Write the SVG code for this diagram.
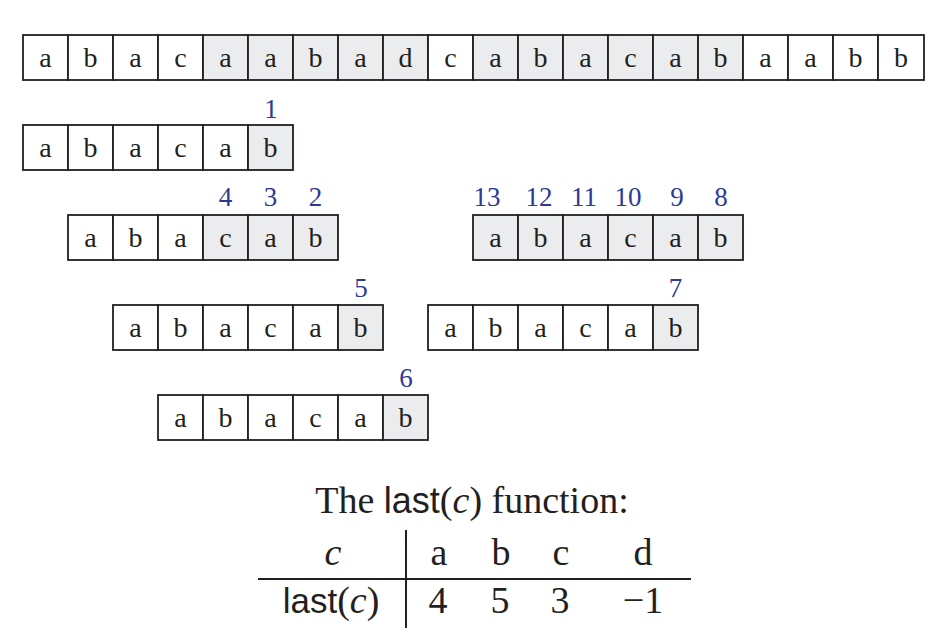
<svg xmlns="http://www.w3.org/2000/svg" width="940" height="641" viewBox="0 0 940 641">
<style>
.c{fill:#ffffff;stroke:#231f20;stroke-width:1.8}
.s{fill:#ebecee;stroke:#231f20;stroke-width:1.8}
.t{font-family:"Liberation Serif","Times New Roman",serif;font-size:28px;fill:#231f20;text-anchor:middle}
.n{font-family:"Liberation Serif","Times New Roman",serif;font-size:27px;fill:#2e3a92;text-anchor:middle}
.big{font-family:"Liberation Serif","Times New Roman",serif;font-size:38px;fill:#231f20}
.sans{font-family:"Liberation Sans",Arial,sans-serif}
.it{font-style:italic}
.ln{stroke:#231f20;stroke-width:2}
</style>
<rect width="940" height="641" fill="#ffffff"/>

<g id="text-row">
<rect class="c" x="23" y="35" width="45" height="45"/><rect class="c" x="68" y="35" width="45" height="45"/><rect class="c" x="113" y="35" width="45" height="45"/><rect class="c" x="158" y="35" width="45" height="45"/>
<rect class="s" x="203" y="35" width="45" height="45"/><rect class="s" x="248" y="35" width="45" height="45"/><rect class="s" x="293" y="35" width="45" height="45"/><rect class="s" x="338" y="35" width="45" height="45"/><rect class="s" x="383" y="35" width="45" height="45"/>
<rect class="c" x="428" y="35" width="45" height="45"/>
<rect class="s" x="473" y="35" width="45" height="45"/><rect class="s" x="518" y="35" width="45" height="45"/><rect class="s" x="563" y="35" width="45" height="45"/><rect class="s" x="608" y="35" width="45" height="45"/><rect class="s" x="653" y="35" width="45" height="45"/><rect class="s" x="698" y="35" width="45" height="45"/>
<rect class="c" x="743" y="35" width="45" height="45"/><rect class="c" x="788" y="35" width="45" height="45"/><rect class="c" x="833" y="35" width="45" height="45"/><rect class="c" x="878" y="35" width="46" height="45"/>
<text class="t" x="45.5" y="67">a</text><text class="t" x="90.5" y="67">b</text><text class="t" x="135.5" y="67">a</text><text class="t" x="180.5" y="67">c</text><text class="t" x="225.5" y="67">a</text><text class="t" x="270.5" y="67">a</text><text class="t" x="315.5" y="67">b</text><text class="t" x="360.5" y="67">a</text><text class="t" x="405.5" y="67">d</text><text class="t" x="450.5" y="67">c</text><text class="t" x="495.5" y="67">a</text><text class="t" x="540.5" y="67">b</text><text class="t" x="585.5" y="67">a</text><text class="t" x="630.5" y="67">c</text><text class="t" x="675.5" y="67">a</text><text class="t" x="720.5" y="67">b</text><text class="t" x="765.5" y="67">a</text><text class="t" x="810.5" y="67">a</text><text class="t" x="855.5" y="67">b</text><text class="t" x="901" y="67">b</text>
</g>

<g id="shift0">
<rect class="c" x="23" y="125" width="45" height="45"/><rect class="c" x="68" y="125" width="45" height="45"/><rect class="c" x="113" y="125" width="45" height="45"/><rect class="c" x="158" y="125" width="45" height="45"/><rect class="c" x="203" y="125" width="45" height="45"/><rect class="s" x="248" y="125" width="45" height="45"/>
<text class="t" x="45.5" y="157">a</text><text class="t" x="90.5" y="157">b</text><text class="t" x="135.5" y="157">a</text><text class="t" x="180.5" y="157">c</text><text class="t" x="225.5" y="157">a</text><text class="t" x="270.5" y="157">b</text>
<text class="n" x="271" y="118">1</text>
</g>

<g id="shift1">
<rect class="c" x="68" y="215" width="45" height="45"/><rect class="c" x="113" y="215" width="45" height="45"/><rect class="c" x="158" y="215" width="45" height="45"/><rect class="s" x="203" y="215" width="45" height="45"/><rect class="s" x="248" y="215" width="45" height="45"/><rect class="s" x="293" y="215" width="45" height="45"/>
<text class="t" x="90.5" y="247">a</text><text class="t" x="135.5" y="247">b</text><text class="t" x="180.5" y="247">a</text><text class="t" x="225.5" y="247">c</text><text class="t" x="270.5" y="247">a</text><text class="t" x="315.5" y="247">b</text>
<text class="n" x="225.5" y="206">4</text><text class="n" x="270.5" y="206">3</text><text class="n" x="315.5" y="206">2</text>
</g>

<g id="shift10">
<rect class="s" x="473" y="215" width="45" height="45"/><rect class="s" x="518" y="215" width="45" height="45"/><rect class="s" x="563" y="215" width="45" height="45"/><rect class="s" x="608" y="215" width="45" height="45"/><rect class="s" x="653" y="215" width="45" height="45"/><rect class="s" x="698" y="215" width="45" height="45"/>
<text class="t" x="495.5" y="247">a</text><text class="t" x="540.5" y="247">b</text><text class="t" x="585.5" y="247">a</text><text class="t" x="630.5" y="247">c</text><text class="t" x="675.5" y="247">a</text><text class="t" x="720.5" y="247">b</text>
<text class="n" x="487" y="206">13</text><text class="n" x="539" y="206">12</text><text class="n" x="584" y="206">11</text><text class="n" x="628" y="206">10</text><text class="n" x="677" y="206">9</text><text class="n" x="721" y="206">8</text>
</g>

<g id="shift2">
<rect class="c" x="113" y="305" width="45" height="45"/><rect class="c" x="158" y="305" width="45" height="45"/><rect class="c" x="203" y="305" width="45" height="45"/><rect class="c" x="248" y="305" width="45" height="45"/><rect class="c" x="293" y="305" width="45" height="45"/><rect class="s" x="338" y="305" width="45" height="45"/>
<text class="t" x="135.5" y="337">a</text><text class="t" x="180.5" y="337">b</text><text class="t" x="225.5" y="337">a</text><text class="t" x="270.5" y="337">c</text><text class="t" x="315.5" y="337">a</text><text class="t" x="360.5" y="337">b</text>
<text class="n" x="361" y="297">5</text>
</g>

<g id="shift9">
<rect class="c" x="428" y="305" width="45" height="45"/><rect class="c" x="473" y="305" width="45" height="45"/><rect class="c" x="518" y="305" width="45" height="45"/><rect class="c" x="563" y="305" width="45" height="45"/><rect class="c" x="608" y="305" width="45" height="45"/><rect class="s" x="653" y="305" width="45" height="45"/>
<text class="t" x="450.5" y="337">a</text><text class="t" x="495.5" y="337">b</text><text class="t" x="540.5" y="337">a</text><text class="t" x="585.5" y="337">c</text><text class="t" x="630.5" y="337">a</text><text class="t" x="675.5" y="337">b</text>
<text class="n" x="675.5" y="297">7</text>
</g>

<g id="shift3">
<rect class="c" x="158" y="395" width="45" height="45"/><rect class="c" x="203" y="395" width="45" height="45"/><rect class="c" x="248" y="395" width="45" height="45"/><rect class="c" x="293" y="395" width="45" height="45"/><rect class="c" x="338" y="395" width="45" height="45"/><rect class="s" x="383" y="395" width="45" height="45"/>
<text class="t" x="180.5" y="427">a</text><text class="t" x="225.5" y="427">b</text><text class="t" x="270.5" y="427">a</text><text class="t" x="315.5" y="427">c</text><text class="t" x="360.5" y="427">a</text><text class="t" x="405.5" y="427">b</text>
<text class="n" x="406" y="387">6</text>
</g>

<g id="last-table">
<text class="big" x="472" y="513" text-anchor="middle" font-size="39">The <tspan class="sans" font-size="36">last</tspan>(<tspan class="it">c</tspan>) function:</text>
<line class="ln" x1="406" y1="530" x2="406" y2="628"/>
<line class="ln" x1="258" y1="579" x2="691" y2="579"/>
<g class="big" text-anchor="middle">
<text x="333" y="565" class="it">c</text>
<text x="439" y="565">a</text><text x="501" y="565">b</text><text x="561" y="565">c</text><text x="643" y="565">d</text>
<text x="331" y="613"><tspan class="sans" font-size="35">last</tspan>(<tspan class="it">c</tspan>)</text>
<text x="438" y="613">4</text><text x="500" y="613">5</text><text x="560" y="613">3</text><text x="643" y="613">−1</text>
</g>
</g>
</svg>
